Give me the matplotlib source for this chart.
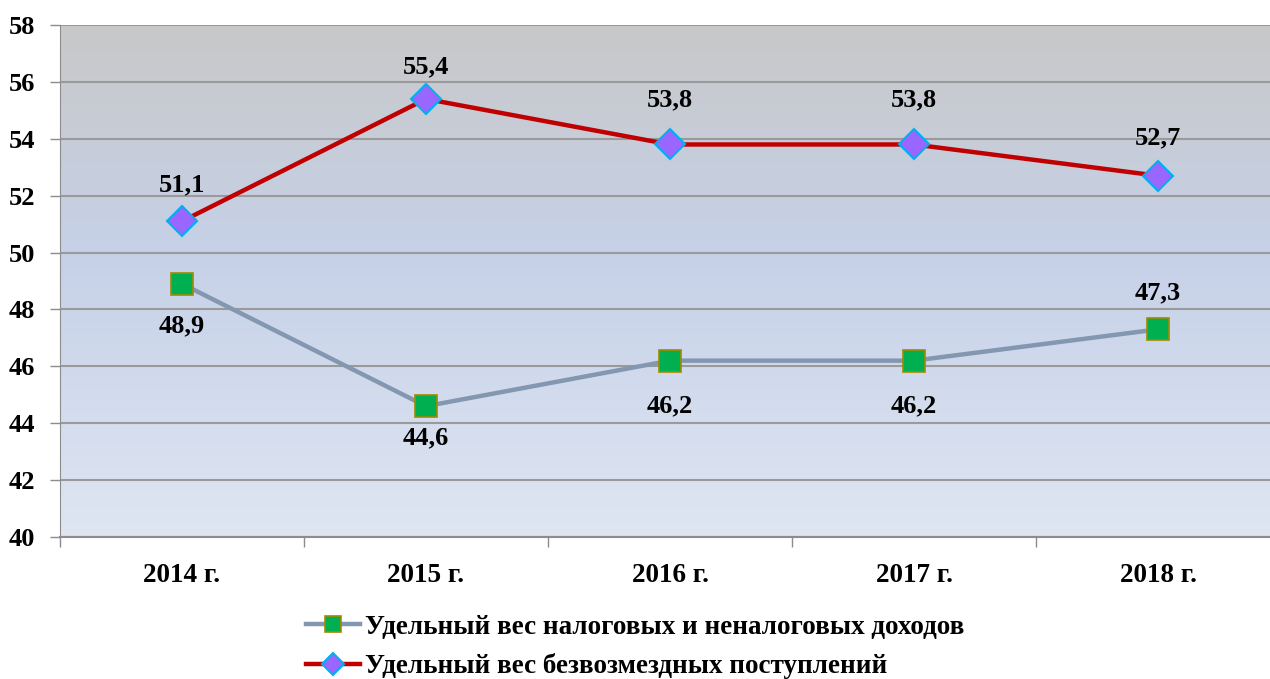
import numpy as np
import matplotlib
matplotlib.use("Agg")
import matplotlib.pyplot as plt
from matplotlib.colors import LinearSegmentedColormap
from matplotlib.lines import Line2D

categories = ["2014 г.", "2015 г.", "2016 г.", "2017 г.", "2018 г."]
tax_share = [48.9, 44.6, 46.2, 46.2, 47.3]
grant_share = [51.1, 55.4, 53.8, 53.8, 52.7]
tax_label = "Удельный вес налоговых и неналоговых доходов"
grant_label = "Удельный вес безвозмездных поступлений"
yticks = list(range(40, 59, 2))

# label offsets in pixels (positive = above marker)
tax_offsets = [-42, -32, -45, -45, 37]
grant_offsets = [36, 32, 45, 45, 38]

plt.rcParams['font.family'] = ['Liberation Serif', 'DejaVu Serif']
plt.rcParams['font.weight'] = 'bold'

W, H = 1270, 679
fig = plt.figure(figsize=(W / 100, H / 100), dpi=100)
left, right, top, bottom = 60, 1280, 25, 537
ax = fig.add_axes([left / W, 1 - bottom / H, (right - left) / W, (bottom - top) / H])

x = np.arange(len(categories))
ax.set_xlim(-0.5, len(categories) - 0.5)
ax.set_ylim(40, 58)

cmap = LinearSegmentedColormap.from_list("bg", [(0.0, "#c8c8c8"), (0.45, "#c6d1e8"), (1.0, "#dfe6f2")])
grad = np.linspace(0, 1, 256).reshape(-1, 1)
ax.imshow(grad, aspect='auto', cmap=cmap, extent=[-0.5, len(categories) - 0.5, 40, 58],
          origin='upper', zorder=0)

for yv in yticks:
    ax.axhline(yv, color="#9a9a9a", lw=1.5, zorder=1)

ax.plot(x, tax_share, color="#8497b0", lw=3.2, marker='s', ms=16,
        mfc="#00b050", mec="#a08a00", mew=1.2, zorder=3)
ax.plot(x, grant_share, color="#c00000", lw=3.2, marker='D', ms=15,
        mfc="#9966ff", mec="#00b0f0", mew=1.5, zorder=3)

fs = 19
def fmt(v):
    return f"{v:.1f}".replace(".", ",")

for vals, offs in ((tax_share, tax_offsets), (grant_share, grant_offsets)):
    for i, v in enumerate(vals):
        ax.annotate(fmt(v), (x[i], v), xytext=(0, offs[i] * 0.72), textcoords='offset points',
                    ha='center', va='center', fontsize=fs, fontweight='bold')

ax.set_yticks(yticks)
ax.set_yticklabels([str(t) for t in yticks], fontsize=19, fontweight='bold')
ax.set_xticks(x)
ax.set_xticklabels(categories, fontsize=19.5, fontweight='bold')
ax.tick_params(axis='x', length=0, pad=19)
ax.set_xticks(np.arange(-0.5, len(categories), 1), minor=True)
ax.tick_params(axis='x', which='minor', length=7, color="#8c8c8c", width=1)
ax.tick_params(axis='y', length=7, color="#8c8c8c", width=1, pad=11)

for s in ["top", "right"]:
    ax.spines[s].set_visible(False)
ax.spines["left"].set_color("#8c8c8c")
ax.spines["bottom"].set_color("#8c8c8c")
ax.spines["bottom"].set_linewidth(1.5)

handles = [
    Line2D([0], [0], color="#8497b0", lw=3.2, marker='s', ms=11, mfc="#00b050", mec="#a08a00", mew=1.2),
    Line2D([0], [0], color="#c00000", lw=3.2, marker='D', ms=11, mfc="#9966ff", mec="#00b0f0", mew=1.5),
]
fig.legend(handles, [tax_label, grant_label], loc='center', bbox_to_anchor=(0.5, 1 - 647 / H),
           frameon=False, handlelength=2.0, handletextpad=0.2, labelspacing=0.5,
           prop={'weight': 'bold', 'size': 19.5})

fig.savefig("out.png", dpi=100, facecolor="white")
